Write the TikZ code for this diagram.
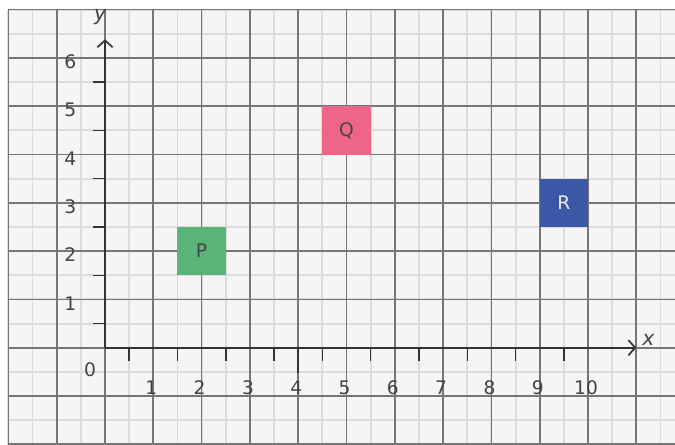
\documentclass[tikz,border=0pt]{standalone}
\usepackage{fontspec}
\setmainfont{DejaVu Sans}
\usetikzlibrary{arrows.meta}
\definecolor{bgc}{HTML}{F5F5F5}
\definecolor{minorc}{HTML}{DCDCDC}
\definecolor{majorc}{HTML}{767676}
\definecolor{axisc}{HTML}{333333}
\definecolor{txtc}{HTML}{444444}
\definecolor{pgreen}{HTML}{5AB47A}
\definecolor{qpink}{HTML}{EE6589}
\definecolor{rblue}{HTML}{3A58A6}
\tikzset{
  minorgrid/.style={draw=minorc,line width=1.1pt},
  majorgrid/.style={draw=majorc,line width=1pt},
  axisline/.style={draw=axisc,line width=1.1pt},
  axisarrow/.style={axisline,-{Straight Barb[length=4pt,width=9pt,line width=1pt]}},
  ticksmall/.style={draw=axisc,line width=0.9pt},
  numlabel/.style={text=txtc,font=\fontsize{11}{13}\selectfont,inner sep=0pt},
  varlabel/.style={text=txtc,font=\fontsize{12}{14}\selectfont\itshape,inner sep=0pt},
  sq/.style={minimum size=1cm,inner sep=0pt,font=\fontsize{11}{13}\selectfont},
}
\begin{document}
\begin{tikzpicture}
\useasboundingbox[fill=white] (-2.174,-1.994) rectangle (11.801,7.199);
% background grid
\fill[bgc] (-2,-2.1) rectangle (11.9,7);
\draw[minorgrid] (-2,-2.1) grid[step=0.5] (11.9,7);
\draw[majorgrid] (-2,-2.1) grid[step=1] (11.9,7);
% squares
\node[sq,fill=pgreen,text=txtc] (P) at (2,2) {P};
\node[sq,fill=qpink,text=txtc] (Q) at (5,4.5) {Q};
\node[sq,fill=rblue,text=white!92!blue] (R) at (9.5,3) {R};
% axes
\coordinate (O) at (0,0);
\coordinate (xend) at (11,0);
\coordinate (yend) at (0,6.385);
\draw[axisarrow] (O) -- (xend);
\draw[axisarrow] (O) -- (yend);
% ticks on x axis
\foreach \t in {0.5,1.5,...,9.5} \draw[ticksmall] (\t,0) -- (\t,-0.27);
\draw[axisline] (4,0) -- (4,-0.52);
% ticks on y axis
\foreach \t in {0.5,1.5,...,5.5} \draw[ticksmall] (0,\t) -- (-0.25,\t);
% labels
\foreach \n in {1,...,10} \node[numlabel] (xl\n) at (\n-0.04,-0.82) {\n};
\foreach \n in {1,...,6} \node[numlabel] (yl\n) at (-0.72,\n-0.08) {\n};
\node[numlabel] (zero) at (-0.31,-0.46) {0};
\node[varlabel] (xlab) at (11.25,0.16) {x};
\node[varlabel] (ylab) at (-0.1,6.85) {y};
\end{tikzpicture}
\end{document}
